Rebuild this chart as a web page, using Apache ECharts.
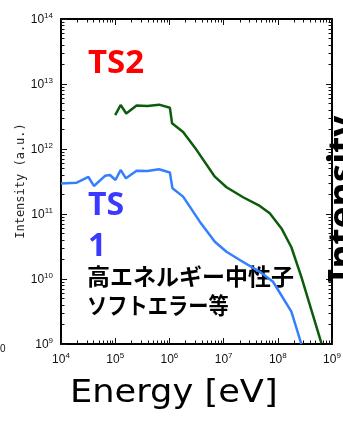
<!DOCTYPE html>
<html>
<head>
<meta charset="utf-8">
<script src="https://cdn.jsdelivr.net/npm/echarts@6/dist/echarts.min.js"></script>
<style>
html,body{margin:0;padding:0;background:#fff;}
.layer{position:absolute;left:0;top:0;width:343px;height:422px;}
</style>
</head>
<body>
<div id="frame" class="layer"></div>
<div id="chart" class="layer"></div>
<script>
// Data
const ts1Energy = [1e4, 1.95e4, 3.2e4, 4.05e4, 6.5e4, 8e4, 1.01e5, 1.26e5, 1.58e5, 2.48e5, 3.93e5, 6.46e5, 1.02e6, 1.14e6, 1.79e6, 3.64e6, 6.89e6, 1.13e7, 1.99e7, 4.65e7, 8.17e7, 1.78e8, 2.72e8];
const ts1Intensity = [2.94e11, 3.03e11, 3.71e11, 2.70e11, 3.87e11, 3.98e11, 3.33e11, 4.75e11, 3.54e11, 4.63e11, 4.59e11, 4.88e11, 4.35e11, 2.48e11, 1.85e11, 7.62e10, 3.75e10, 2.63e10, 1.96e10, 1.29e10, 9.08e9, 3.14e9, 1.0e9];
const ts2Energy = [1.0e5, 1.26e5, 1.6e5, 2.48e5, 3.93e5, 6.46e5, 1.02e6, 1.12e6, 1.79e6, 3.16e6, 6.89e6, 1.13e7, 2.29e7, 4.65e7, 7.1e7, 1.17e8, 1.78e8, 2.72e8, 6.37e8];
const ts2Intensity = [3.33e12, 4.75e12, 3.52e12, 4.67e12, 4.59e12, 4.81e12, 4.32e12, 2.48e12, 1.83e12, 9.7e11, 3.75e11, 2.58e11, 1.81e11, 1.33e11, 1.03e11, 6.0e10, 3.08e10, 1.08e10, 1.03e9];
const xRange = [1e4, 1e9];
const yRange = [1e9, 1e14];
const xTitle = 'Energy [eV]';
const yTitle = 'Intensity (a.u.)';

function supLabel(v) {
  const e = Math.round(Math.log10(v));
  return '{b|10}{s|' + e + '}';
}
function rich() {
  return {
    b: {fontSize: 12, lineHeight: 14, verticalAlign: 'bottom', fontFamily: 'Liberation Sans', color: '#111'},
    s: {fontSize: 8, lineHeight: 14, verticalAlign: 'top', fontFamily: 'Liberation Sans', color: '#111'}
  };
}
function rect() {
  return {left: 61, top: 19, width: 271, height: 325, outerBoundsMode: 'none'};
}
// frame axes: box line with inward major and minor ticks
function tickAxis(gridIndex, position, range) {
  return {
    gridIndex: gridIndex, type: 'log', logBase: 10, min: range[0], max: range[1], position: position,
    axisLine: {show: true, onZero: false, lineStyle: {color: '#000', width: 2}},
    axisTick: {show: true, inside: true, interval: 0, length: 6, lineStyle: {color: '#111', width: 1}},
    minorTick: {show: true, splitNumber: 9, length: 3.5, lineStyle: {color: '#111', width: 1}},
    splitLine: {show: false},
    axisLabel: {show: true, interval: 0, fontSize: 6, color: 'rgba(0,0,0,0)', formatter: function () { return '.'; }}
  };
}
// data axes: only the superscript labels
function labelAxis(position, range) {
  return {
    type: 'log', logBase: 10, min: range[0], max: range[1], position: position,
    axisLine: {show: false}, axisTick: {show: false}, minorTick: {show: false}, splitLine: {show: false},
    axisLabel: {show: true, margin: 8, formatter: supLabel, rich: rich()}
  };
}

const frame = echarts.init(document.getElementById('frame'));
frame.setOption({
  animation: false,
  grid: [rect(), rect()],
  xAxis: [tickAxis(0, 'bottom', xRange), tickAxis(1, 'top', xRange)],
  yAxis: [tickAxis(0, 'left', yRange), tickAxis(1, 'right', yRange)]
});

const chart = echarts.init(document.getElementById('chart'));
chart.setOption({
  animation: false,
  grid: rect(),
  xAxis: labelAxis('bottom', xRange),
  yAxis: labelAxis('left', yRange),
  series: [
    {type: 'line', name: 'TS1', showSymbol: false, symbol: 'none',
     data: ts1Energy.map((e, i) => [e, ts1Intensity[i]]),
     lineStyle: {color: '#3380ff', width: 2.5}},
    {type: 'line', name: 'TS2', showSymbol: false, symbol: 'none',
     data: ts2Energy.map((e, i) => [e, ts2Intensity[i]]),
     lineStyle: {color: '#0c5c0c', width: 2.5}}
  ],
  graphic: [
    {type: 'text', left: 88, top: 47, style: {text: 'TS2', font: 'bold 33px "Noto Sans"', fill: '#ff0000'}},
    {type: 'text', left: 88, top: 190, style: {text: 'TS', font: 'bold 32px "Noto Sans"', fill: '#3a3aff'}},
    {type: 'text', left: 88, top: 231, style: {text: '1', font: 'bold 32px "Noto Sans"', fill: '#3a3aff'}},
    {type: 'text', left: 87, top: 265, style: {text: '高エネルギー中性子', font: 'bold 23px "Noto Sans CJK JP"', fill: '#000'}},
    {type: 'text', x: 87, y: 294, scaleX: 0.88, style: {text: 'ソフトエラー等', font: 'bold 23px "Noto Sans CJK JP"', fill: '#000'}},
    {type: 'text', x: 70, y: 378, scaleX: 1.1, style: {text: xTitle, font: '32px "DejaVu Sans"', fill: '#000'}},
    {type: 'text', x: 21, y: 181, rotation: Math.PI / 2, style: {text: yTitle, font: '12px "DejaVu Sans Mono"', fill: '#222', align: 'center', verticalAlign: 'middle'}},
    {type: 'text', x: 0, y: 344, style: {text: '0', font: '10px "Liberation Sans"', fill: '#111'}},
    {type: 'text', x: 326, y: 283, rotation: Math.PI / 2, style: {text: 'Intensity', font: 'bold 37px "Noto Sans"', fill: '#000', align: 'left', verticalAlign: 'top'}}
  ]
});
</script>
</body>
</html>
